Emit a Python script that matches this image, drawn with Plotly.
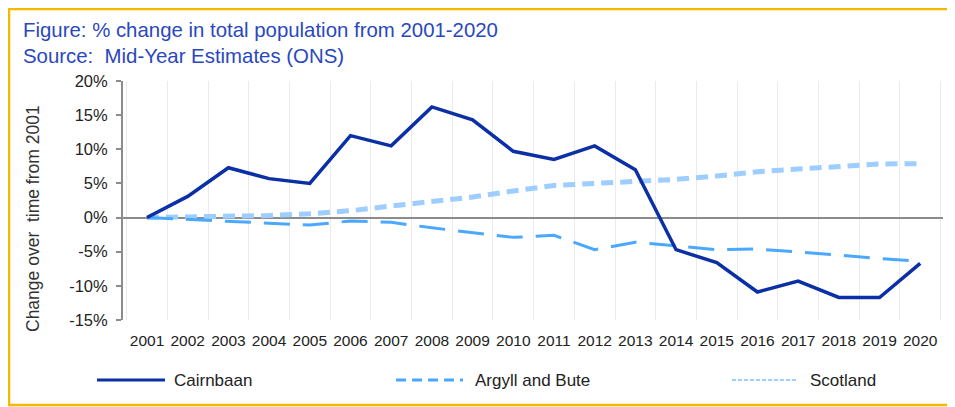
import plotly.graph_objects as go

# 年份与三条序列（相对2001年的百分比变化）
years = list(range(2001, 2021))
cairnbaan = [0.0, 3.1, 7.3, 5.7, 5.0, 12.0, 10.5, 16.2, 14.3, 9.7,
             8.5, 10.5, 7.0, -4.7, -6.6, -10.9, -9.3, -11.7, -11.7, -6.7]
argyll = [0.0, -0.3, -0.5, -0.9, -1.1, -0.5, -0.7, -1.5, -2.2, -2.9,
          -2.6, -4.7, -3.6, -4.1, -4.7, -4.6, -5.0, -5.5, -6.0, -6.4]
scotland = [0.0, 0.05, 0.15, 0.3, 0.55, 1.0, 1.7, 2.3, 3.0, 3.9,
            4.7, 5.0, 5.3, 5.6, 6.1, 6.7, 7.1, 7.5, 7.85, 7.9]
y_ticks = [-15, -10, -5, 0, 5, 10, 15, 20]

DARK = "#0B2FA5"
MID = "#4AA8FF"
LIGHT = "#9DCEFF"
TITLE_BLUE = "#2A48BE"
BORDER = "#F5B800"

# 页面body有8px边距，所以图的尺寸和位置都按屏幕坐标减8来算
OFF = 8
W, H = 955 - OFF, 407 - OFF
L, R, T, B = 115, 12, 73, 87
PW, PH = W - L - R, H - T - B


def px(x):
    """屏幕x像素 -> paper坐标"""
    return (x - OFF - L) / PW


def py(y):
    """屏幕y像素 -> paper坐标"""
    return (H - B - (y - OFF)) / PH


fig = go.Figure()

fig.add_trace(go.Scatter(x=years, y=scotland, mode="lines", name="Scotland",
                         line=dict(color=LIGHT, width=5, dash="12px,7px")))
fig.add_trace(go.Scatter(x=years, y=argyll, mode="lines", name="Argyll and Bute",
                         line=dict(color=MID, width=3, dash="26px,13px")))
fig.add_trace(go.Scatter(x=years, y=cairnbaan, mode="lines", name="Cairnbaan",
                         line=dict(color=DARK, width=3.5)))

# 标题两行
fig.add_annotation(text="Figure: % change in total population from 2001-2020",
                   xref="paper", yref="paper", x=px(21), y=py(30),
                   xanchor="left", yanchor="middle", showarrow=False,
                   font=dict(size=20.4, color=TITLE_BLUE))
fig.add_annotation(text="Source:  Mid-Year Estimates (ONS)",
                   xref="paper", yref="paper", x=px(21), y=py(56),
                   xanchor="left", yanchor="middle", showarrow=False,
                   font=dict(size=20.4, color=TITLE_BLUE))

# y轴标题
fig.add_annotation(text="Change over  time from 2001",
                   xref="paper", yref="paper", x=px(33), y=py(219),
                   xanchor="center", yanchor="middle", showarrow=False,
                   textangle=-90, font=dict(size=17.5, color="#333333"))

# 手绘图例
legend_items = [
    ("Cairnbaan", DARK, 3, "solid", 97, 165, 172),
    ("Argyll and Bute", MID, 3, "10px,6px", 396, 463, 473),
    ("Scotland", LIGHT, 2, "4px,2px", 732, 797, 808),
]
for name, col, w, dash, x0, x1, xt in legend_items:
    fig.add_shape(type="line", xref="paper", yref="paper",
                  x0=px(x0), x1=px(x1), y0=py(380), y1=py(380),
                  line=dict(color=col, width=w, dash=dash))
    fig.add_annotation(text=name, xref="paper", yref="paper", x=px(xt), y=py(380),
                       xanchor="left", yanchor="middle", showarrow=False,
                       font=dict(size=17, color="#222222"))

# 外框
fig.add_shape(type="rect", xref="paper", yref="paper",
              x0=px(9), x1=px(990), y0=py(405), y1=py(9),
              line=dict(color=BORDER, width=2.5), layer="below")

fig.update_layout(
    width=W, height=H,
    margin=dict(l=L, r=R, t=T, b=B),
    plot_bgcolor="white", paper_bgcolor="white",
    showlegend=False,
    font=dict(family="Liberation Sans, Arial, sans-serif", color="#222222"),
    xaxis=dict(
        range=[2000.41, 2020.56], tickmode="array", tickvals=years,
        ticktext=[str(y) for y in years], showgrid=False, zeroline=False,
        showline=False, ticks="", ticklabelstandoff=9,
        tickfont=dict(size=15.5),
        minor=dict(tick0=2000.5, dtick=1, showgrid=True, gridcolor="#EBEBEB", gridwidth=1),
    ),
    yaxis=dict(
        range=[-15, 20], tickmode="array", tickvals=y_ticks,
        ticktext=[f"{v}%" for v in y_ticks],
        showgrid=False, zeroline=True, zerolinecolor="#8C8C8C", zerolinewidth=2,
        showline=True, linecolor="#8C8C8C", linewidth=2,
        ticks="outside", ticklen=5, tickcolor="#8C8C8C", tickwidth=2,
        tickfont=dict(size=16.5), ticklabelstandoff=5,
    ),
)

fig.write_html("out.html")
